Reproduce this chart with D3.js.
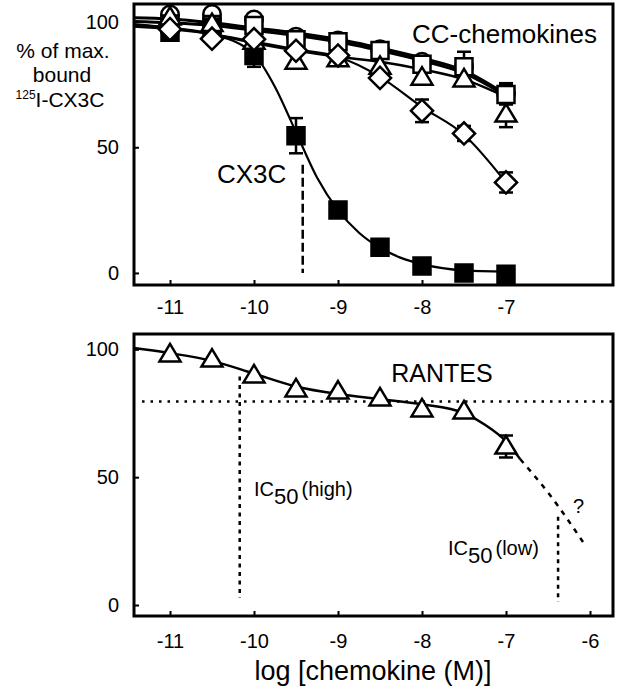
<!DOCTYPE html>
<html>
<head>
<meta charset="utf-8">
<script src="https://cdn.jsdelivr.net/npm/d3@7"></script>
<style>
  body { margin: 0; background: #fff; }
  svg text { font-family: "Liberation Sans", Arial, sans-serif; fill: #000; }
</style>
</head>
<body>
<div id="chart"></div>
<script>
(() => {

    ////////////////////////////////////
    ////////////// data ////////////////
    ////////////////////////////////////

    // log concentrations used for every series
    const logConc = [-11, -10.5, -10, -9.5, -9, -8.5, -8, -7.5, -7]

    // top panel: % of max bound 125I-CX3C
    const cx3c = [95.8, 97.8, 86.5, 54.6, 25, 10.2, 2.8, 0, -0.5]
    const cx3cErr = [0, 0, 4.5, 7, 0, 0, 0, 0, 0]
    const circles = [102.8, 103, 100.8, 94, 92.5, 89, 84, 82, 71.5]
    const circlesErr = [0, 0, 0, 0, 0, 0, 0, 6, 4]
    const squares = [99, 98.8, 98.4, 92.8, 92, 88.5, 83, 82, 71]
    const squaresErr = [0, 0, 0, 0, 0, 0, 0, 0, 4]
    const triangles = [101.6, 99, 92, 84, 85, 82, 77.7, 77, 63]
    const trianglesErr = [0, 0, 0, 0, 0, 0, 0, 0, 5]
    const diamonds = [97, 93.2, 93, 88.4, 86.5, 77.6, 64.5, 55.5, 36]
    const diamondsErr = [0, 0, 0, 0, 0, 0, 4.5, 3, 4]

    // fitted curves [log conc, %]
    const fitCx3c = [[-11.43, 99], [-11, 97.5], [-10.5, 95], [-10, 87], [-9.75, 74], [-9.5, 56], [-9.25, 38], [-9, 25], [-8.75, 16], [-8.5, 10], [-8.25, 6], [-8, 3.5], [-7.5, 1], [-7, 0.5]]
    const fitCircles = [[-11.43, 101.5], [-11, 101], [-10.5, 99.5], [-10, 97.5], [-9.5, 95.5], [-9, 93], [-8.5, 89.5], [-8, 85.5], [-7.5, 80.5], [-7, 71]]
    const fitSquares = [[-11.43, 100], [-11, 99.5], [-10.5, 98.5], [-10, 96.5], [-9.5, 94.5], [-9, 92], [-8.5, 88.5], [-8, 84.5], [-7.5, 79.5], [-7, 70.5]]
    const fitTriangles = [[-11.43, 98.5], [-11, 97.5], [-10.5, 95], [-10, 91.5], [-9.5, 88.5], [-9, 86], [-8.5, 84], [-8, 81], [-7.5, 77], [-7, 70]]
    const fitDiamonds = [[-11.43, 98], [-11, 97], [-10.5, 95], [-10, 92], [-9.5, 89], [-9, 86], [-8.5, 78], [-8, 66], [-7.5, 55], [-7, 36]]

    // bottom panel: RANTES
    const rantes = [98, 96, 89.8, 84.3, 83.5, 80.8, 76.5, 75.7, 62]
    const rantesErr = [0, 0, 0, 0, 0, 0, 0, 0, 4.3]
    const fitRantes = [[-11.43, 100.5], [-11, 98.5], [-10.5, 95.5], [-10, 90.5], [-9.5, 85.5], [-9, 82.5], [-8.5, 80.5], [-8, 78.5], [-7.5, 75], [-7.25, 70.5], [-7, 64], [-6.83, 57]]
    const extrapRantes = [[-6.83, 57], [-6.5, 44], [-6.05, 23]]

    // reference lines
    const cx3cIC50 = -9.42
    const plateau = 79.6
    const ic50High = -10.17
    const ic50Low = -6.38

    // ticks
    const xTicksTop = [-11, -10, -9, -8, -7]
    const xTicksBottom = [-11, -10, -9, -8, -7, -6]
    const yTicks = [0, 50, 100]

    ////////////////////////////////////
    //////////// SVG Setup /////////////
    ////////////////////////////////////

    const svgWidth = 619
    const svgHeight = 689

    const svg = d3.select('#chart')
        .append('svg')
        .attr('width', svgWidth)
        .attr('height', svgHeight)

    const black = '#000'
    const markerStroke = 2.5

    ////////////////////////////////////
    //////////////scales////////////////
    ////////////////////////////////////

    const xScale = d3.scaleLinear()
        .domain([-11.4286, -5.7262])
        .range([134, 613])

    const yTop = d3.scaleLinear()
        .domain([-4.8, 107])
        .range([285, 4])

    const yBottom = d3.scaleLinear()
        .domain([-4.3, 106])
        .range([616, 334])

    const line = (y) => d3.line()
        .x(d => xScale(d[0]))
        .y(d => y(d[1]))
        .curve(d3.curveMonotoneX)

    ////////////////////////////////////
    ///////////////axis/////////////////
    ////////////////////////////////////

    function drawFrame(y, ticksX, pad) {
        const [y0, y1] = y.range()
        const [x0, x1] = xScale.range()

        const xAxis = svg.append('g')
            .attr('transform', 'translate(0,' + y0 + ')')
            .call(d3.axisBottom(xScale).tickValues(ticksX).tickSize(-5).tickPadding(pad).tickFormat(d3.format('d')))
        const yAxis = svg.append('g')
            .attr('transform', 'translate(' + x0 + ',0)')
            .call(d3.axisLeft(y).tickValues(yTicks).tickSize(-5).tickPadding(15))

        for (const ax of [xAxis, yAxis]) {
            ax.select('.domain').remove()
            ax.selectAll('line').attr('stroke', black).attr('stroke-width', 2)
            ax.selectAll('text').style('font-size', '20px').attr('fill', black)
        }
        // plain hyphen like the figure, not the wide minus sign
        xAxis.selectAll('text').text(d => String(d))

        svg.append('rect')
            .attr('x', x0)
            .attr('y', y1)
            .attr('width', x1 - x0)
            .attr('height', y0 - y1)
            .attr('fill', 'none')
            .attr('stroke', black)
            .attr('stroke-width', 3)
    }

    drawFrame(yTop, xTicksTop, 15)
    drawFrame(yBottom, xTicksBottom, 18)

    ////////////////////////////////////
    ////////////// marks ///////////////
    ////////////////////////////////////

    const symbols = {
        square: d3.symbol(d3.symbolSquare, 289)(),
        circle: d3.symbol(d3.symbolCircle, 240)(),
        diamond: d3.symbol(d3.symbolSquare, 245)(),
        triangle: 'M0,-10.5L10.5,7L-10.5,7Z'
    }

    function drawCurve(y, fit, width, dash) {
        svg.append('path')
            .datum(fit)
            .attr('d', line(y))
            .attr('fill', 'none')
            .attr('stroke', black)
            .attr('stroke-width', width)
            .attr('stroke-dasharray', dash || null)
    }

    function drawErrors(y, values, errs) {
        const rows = logConc.map((x, i) => ({ x, v: values[i], e: errs[i] })).filter(d => d.e > 0)
        const g = svg.append('g').attr('stroke', black).attr('stroke-width', 2.5)
        g.selectAll('.bar').data(rows).join('line')
            .attr('x1', d => xScale(d.x)).attr('x2', d => xScale(d.x))
            .attr('y1', d => y(d.v - d.e)).attr('y2', d => y(d.v + d.e))
        g.selectAll('.capHi').data(rows).join('line')
            .attr('x1', d => xScale(d.x) - 7).attr('x2', d => xScale(d.x) + 7)
            .attr('y1', d => y(d.v + d.e)).attr('y2', d => y(d.v + d.e))
        g.selectAll('.capLo').data(rows).join('line')
            .attr('x1', d => xScale(d.x) - 7).attr('x2', d => xScale(d.x) + 7)
            .attr('y1', d => y(d.v - d.e)).attr('y2', d => y(d.v - d.e))
    }

    function drawPoints(y, values, shape, filled) {
        svg.append('g').selectAll('path')
            .data(logConc.map((x, i) => [x, values[i]]))
            .join('path')
            .attr('d', symbols[shape])
            .attr('transform', d => 'translate(' + xScale(d[0]) + ',' + y(d[1]) + ')' + (shape === 'diamond' ? ' rotate(45)' : ''))
            .attr('fill', filled ? black : '#fff')
            .attr('stroke', black)
            .attr('stroke-width', markerStroke)
            .attr('stroke-linejoin', 'miter')
    }

    // top panel curves
    drawCurve(yTop, fitCircles, 3)
    drawCurve(yTop, fitSquares, 3)
    drawCurve(yTop, fitTriangles, 2.5)
    drawCurve(yTop, fitDiamonds, 2.2)
    drawCurve(yTop, fitCx3c, 2.2)

    // CX3C IC50 marker
    svg.append('line')
        .attr('x1', xScale(cx3cIC50)).attr('x2', xScale(cx3cIC50))
        .attr('y1', yTop(43)).attr('y2', yTop(0))
        .attr('stroke', black).attr('stroke-width', 2.5)
        .attr('stroke-dasharray', '9,4')

    drawErrors(yTop, circles, circlesErr)
    drawErrors(yTop, squares, squaresErr)
    drawErrors(yTop, triangles, trianglesErr)
    drawErrors(yTop, diamonds, diamondsErr)
    drawErrors(yTop, cx3c, cx3cErr)

    drawPoints(yTop, circles, 'circle', false)
    drawPoints(yTop, squares, 'square', false)
    drawPoints(yTop, cx3c, 'square', true)
    drawPoints(yTop, triangles, 'triangle', false)
    drawPoints(yTop, diamonds, 'diamond', false)

    // bottom panel reference lines
    const refLines = [
        { x1: -11.333, x2: -5.73, y1: plateau, y2: plateau, dash: '2.5,6' },
        { x1: ic50High, x2: ic50High, y1: 89.4, y2: 2.7, dash: '4,4.5' },
        { x1: ic50Low, x2: ic50Low, y1: 34.5, y2: 1.2, dash: '4,4.5' }
    ]
    svg.append('g').selectAll('line').data(refLines).join('line')
        .attr('x1', d => xScale(d.x1)).attr('x2', d => xScale(d.x2))
        .attr('y1', d => yBottom(d.y1)).attr('y2', d => yBottom(d.y2))
        .attr('stroke', black).attr('stroke-width', 2.5)
        .attr('stroke-dasharray', d => d.dash)

    drawCurve(yBottom, fitRantes, 2.5)
    drawCurve(yBottom, extrapRantes, 2.5, '5,6')
    drawErrors(yBottom, rantes, rantesErr)
    drawPoints(yBottom, rantes, 'triangle', false)

    ////////////////////////////////////
    ////////////// labels //////////////
    ////////////////////////////////////

    const label = (x, y, txt, size, anchor) => svg.append('text')
        .attr('x', x).attr('y', y)
        .attr('text-anchor', anchor || 'start')
        .style('font-size', size + 'px')
        .text(txt)

    label(412, 43, 'CC-chemokines', 26)
    label(217, 183, 'CX3C', 26)
    label(442, 382, 'RANTES', 25, 'middle')
    label(573, 513, '?', 20)

    // y axis title
    label(63, 58, '% of max.', 21, 'middle')
    label(62, 82, 'bound', 21, 'middle')
    const iso = svg.append('text')
        .attr('x', 60).attr('y', 107)
        .attr('text-anchor', 'middle')
        .style('font-size', '21px')
    iso.append('tspan').style('font-size', '12px').attr('dy', -8).text('125')
    iso.append('tspan').attr('dy', 8).text('I-CX3C')

    // x axis title
    label(373, 680, 'log [chemokine (M)]', 27, 'middle')

    // IC50 annotations
    const ic = (x, y, tail) => {
        const t = svg.append('text').attr('x', x).attr('y', y).style('font-size', '20px')
        t.append('tspan').text('IC')
        t.append('tspan').attr('dy', 8).style('font-size', '22px').text('50')
        t.append('tspan').attr('dy', -8).attr('dx', 3).text(tail)
    }
    ic(254, 496, '(high)')
    ic(448, 555, '(low)')

})()
</script>
</body>
</html>
